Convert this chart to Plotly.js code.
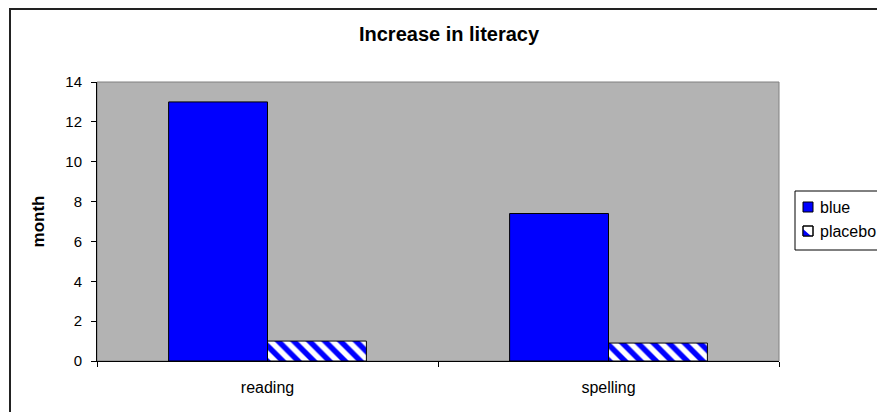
<!DOCTYPE html>
<html>
<head>
<meta charset="utf-8">
<script src="https://cdn.plot.ly/plotly-3.0.1.min.js"></script>
<style>
  html, body { margin: 0; padding: 0; background: #fff; overflow: hidden; }
  #wrap { position: relative; width: 877px; height: 412px; overflow: hidden; }
  #frame { position: absolute; left: 9px; top: 8px; width: 900px; height: 420px;
           border-left: 2px solid #222; border-top: 2px solid #222; pointer-events: none; }
  #chart { position: absolute; left: 0; top: 0; width: 877px; height: 412px; }
</style>
</head>
<body>
<div id="wrap">
  <div id="chart"></div>
  <div id="frame"></div>
</div>
<script>
const categories = ["reading", "spelling"];
const blueValues = [13, 7.4];
const placeboValues = [1.0, 0.9];
const seriesNames = ["blue", "placebo"];
const seriesColors = ["#0000ff", "#0000ff"];
const yTicks = [0, 2, 4, 6, 8, 10, 12, 14];

const traces = [
  {
    type: "bar", name: seriesNames[0], x: categories, y: blueValues,
    marker: { color: seriesColors[0], line: { color: "#000", width: 1 } }
  },
  {
    type: "bar", name: seriesNames[1], x: categories, y: placeboValues,
    marker: {
      color: "#ffffff",
      line: { color: "#000", width: 1 },
      pattern: { shape: "\\", fgcolor: seriesColors[1], bgcolor: "#ffffff", size: 11, solidity: 0.5 }
    }
  }
];

// margins (pixels) and helpers to place the hand-built legend in paper units
const M = { l: 97, r: 98, t: 82, b: 51 };
const W = 877, H = 412;
const pw = W - M.l - M.r, ph = H - M.t - M.b;
const px = v => (v - M.l) / pw;
const py = v => (H - M.b - v) / ph;

const legLeft = 795, legTop = 191, legBottom = 250;
const rowY = [207, 231];
const symL = 803, symR = 813, textX = 818;

const shapes = [
  { type: "rect", xref: "paper", yref: "paper", x0: 0, x1: 1, y0: 0, y1: 1,
    line: { color: "#808080", width: 1 }, layer: "below" },
  { type: "rect", xref: "paper", yref: "paper",
    x0: px(legLeft), x1: px(W + 20), y0: py(legBottom), y1: py(legTop),
    fillcolor: "#ffffff", line: { color: "#000", width: 1 } },
  // blue symbol
  { type: "rect", xref: "paper", yref: "paper",
    x0: px(symL), x1: px(symR), y0: py(rowY[0] + 5), y1: py(rowY[0] - 5),
    fillcolor: seriesColors[0], line: { color: "#000", width: 1 } },
  // placebo symbol: white square with blue diagonal
  { type: "rect", xref: "paper", yref: "paper",
    x0: px(symL), x1: px(symR), y0: py(rowY[1] + 5), y1: py(rowY[1] - 5),
    fillcolor: "#ffffff", line: { color: "#000", width: 1 } },
  { type: "path", xref: "paper", yref: "paper",
    path: `M ${px(symL)} ${py(rowY[1] - 2)} L ${px(symR - 2)} ${py(rowY[1] + 5)} L ${px(symL)} ${py(rowY[1] + 5)} Z`,
    fillcolor: seriesColors[1], line: { width: 0 } },
  { type: "rect", xref: "paper", yref: "paper",
    x0: px(symL), x1: px(symR), y0: py(rowY[1] + 5), y1: py(rowY[1] - 5),
    fillcolor: "rgba(0,0,0,0)", line: { color: "#000", width: 1 } }
];

const annotations = seriesNames.map((name, i) => ({
  xref: "paper", yref: "paper", x: px(textX), y: py(rowY[i]),
  xanchor: "left", yanchor: "middle", showarrow: false,
  text: name, font: { size: 16, color: "#000" }
}));

const layout = {
  width: W, height: H,
  margin: { l: M.l, r: M.r, t: M.t, b: M.b, autoexpand: false },
  paper_bgcolor: "#ffffff",
  plot_bgcolor: "#b3b3b3",
  font: { family: "Arial, 'Liberation Sans', sans-serif", size: 16, color: "#000" },
  title: { text: "<b>Increase in literacy</b>", font: { size: 20, color: "#000" },
           x: 0.512, xref: "container", y: 0.917, yref: "container", xanchor: "center", yanchor: "middle" },
  barmode: "group",
  bargap: 0.42,
  bargroupgap: 0,
  showlegend: false,
  xaxis: {
    showline: true, linecolor: "#000", linewidth: 1,
    ticks: "outside", tickson: "boundaries", ticklen: 5, tickcolor: "#000",
    showgrid: false, zeroline: false,
    ticklabelstandoff: 12,
    tickfont: { size: 16 }
  },
  yaxis: {
    range: [0, 14], tickvals: yTicks, ticktext: yTicks.map(String),
    showline: true, linecolor: "#000", linewidth: 1,
    ticks: "outside", ticklen: 5, tickcolor: "#000",
    showgrid: false, zeroline: false,
    ticklabelstandoff: 6,
    title: { text: "<b>month</b>", font: { size: 17 }, standoff: 16 },
    tickfont: { size: 15 }
  },
  shapes: shapes,
  annotations: annotations
};

Plotly.newPlot("chart", traces, layout, { displayModeBar: false, staticPlot: true });
</script>
</body>
</html>
